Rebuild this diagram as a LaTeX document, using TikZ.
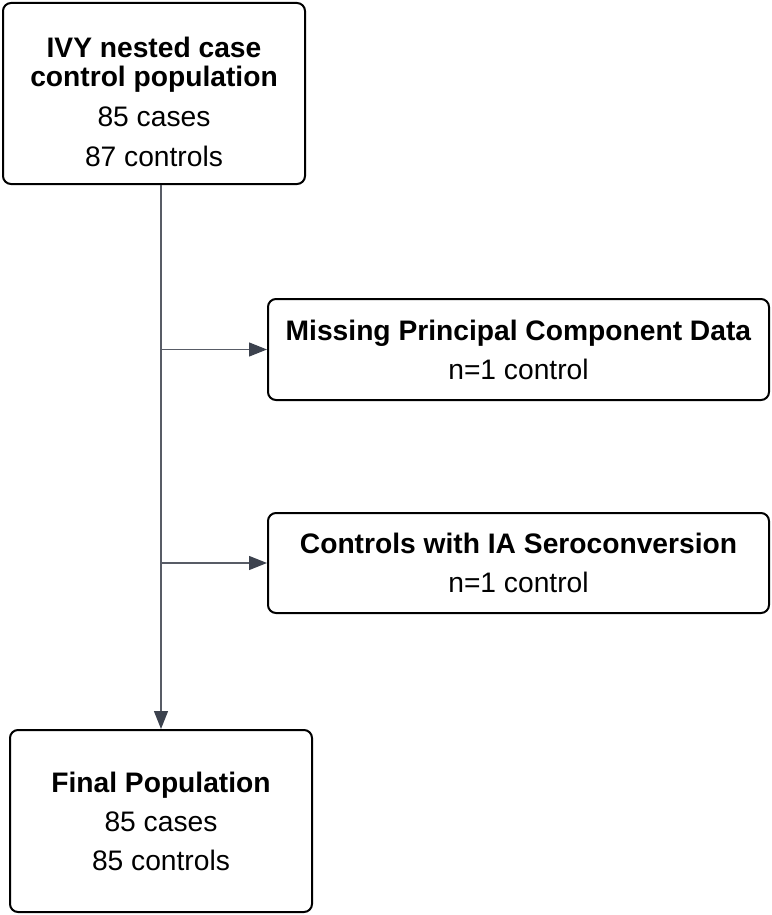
\documentclass[tikz,border=0pt]{standalone}
\usepackage{fontspec}
\setmainfont{Liberation Sans}
\usepackage{tikz}
\usetikzlibrary{positioning,arrows.meta,calc}
\definecolor{linegray}{RGB}{88,92,102}
\definecolor{tipgray}{RGB}{60,66,78}

\begin{document}
\begin{tikzpicture}[
  x=0.5pt, y=-0.5pt,
  box/.style={rectangle, draw=black, line width=1pt, rounded corners=4pt, align=center,
              font=\fontsize{14.1}{19.5}\selectfont, inner sep=0pt},
  arr/.style={-{Triangle[length=9pt,width=7pt,color=tipgray]}, line width=0.7pt, linegray}
]
  \useasboundingbox (0,0) rectangle (771,915);
  \node[box, minimum width=151pt, minimum height=90.5pt](pop) at (154,93.5)
    {\rule{0pt}{18.3pt}\textbf{IVY nested case}\\[-5pt]\textbf{control population}\\[0.5pt]85 cases\\[0.5pt]87 controls};
  \node[box, minimum width=250.5pt, minimum height=50.5pt](missing) at (518.5,349.5)
    {\textbf{Missing Principal Component Data}\\n=1 control};
  \node[box, minimum width=250.5pt, minimum height=50pt](sero) at (518.5,563)
    {\textbf{Controls with IA Seroconversion}\\n=1 control};
  \node[box, minimum width=151pt, minimum height=91pt](final) at (161,821)
    {\textbf{Final Population}\\85 cases\\85 controls};
  \draw[arr](final.north |- pop.south)--(final.north);
  \draw[arr](final.north |- missing.west)--(missing.west);
  \draw[arr](final.north |- sero.west)--(sero.west);
\end{tikzpicture}
\end{document}
